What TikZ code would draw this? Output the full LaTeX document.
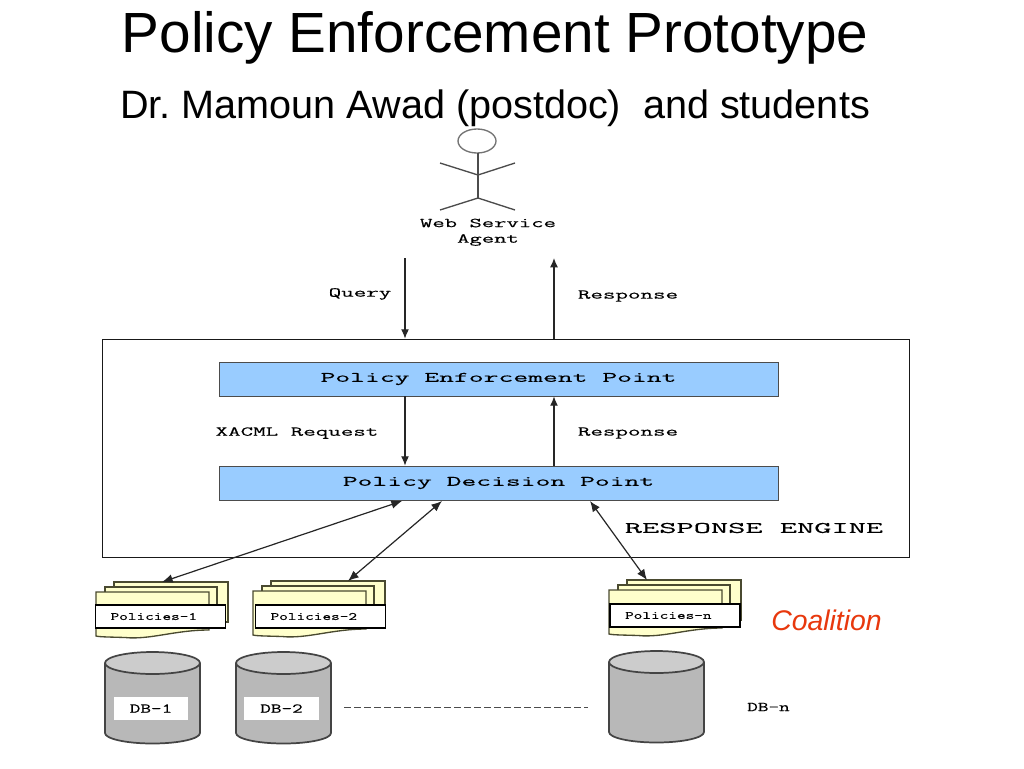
\documentclass[tikz,border=0pt]{standalone}
\usepackage{fontspec}
\usepackage{graphicx}
\setmainfont{Liberation Sans}
\frenchspacing
\newfontfamily\typefont[FakeBold=0.25]{Latin Modern Mono}
\definecolor{boxblue}{HTML}{99CCFF}
\definecolor{sheet}{HTML}{FFFFCC}
\definecolor{sheetline}{HTML}{4A4A30}
\definecolor{cylside}{HTML}{B8B8B8}
\definecolor{cyltop}{HTML}{CCCCCC}
\definecolor{cylline}{HTML}{444444}
\definecolor{coalred}{HTML}{E8380D}
\newcommand{\mono}[3]{\scalebox{#1}[#2]{\fontsize{12pt}{12pt}\selectfont\typefont #3}}
\newcommand{\sheets}[3]{%
  \begin{scope}[shift={(#1,#2)}]
    \draw[sheetedge] (114,582) rectangle (228,622);
    \draw[sheetedge] (105,587) rectangle (217,627);
    \draw[sheetedge] (96,592) -- (209,592) -- (209,630) .. controls (175,630) and (150,640) .. (125,637.5) .. controls (110,637) and (100,637) .. (96,636) -- cycle;
    \coordinate (#3) at (162,582);
  \end{scope}}
\newcommand{\cyl}[2]{%
  \begin{scope}[shift={(#1,#2)}]
    \path[cylbody] (105,663) -- (105,733) arc[start angle=180,end angle=0,x radius=47.5,y radius=10.5] -- (200,663) -- cycle;
    \draw[cyledge] (105,663) -- (105,733) arc[start angle=180,end angle=0,x radius=47.5,y radius=10.5] -- (200,663);
    \draw[cyledge,fill=cyltop] (152.5,663) ellipse[x radius=47.5,y radius=11];
  \end{scope}}
\usetikzlibrary{arrows.meta}
\tikzset{
  x=0.75pt,y=-0.75pt,
  sheetedge/.style={draw=sheetline,fill=sheet,line width=1pt},
  cylbody/.style={fill=cylside},
  cyledge/.style={draw=cylline,line width=1.3pt},
  bluebox/.style={draw=black!70,fill=boxblue,line width=0.6pt,minimum width=419.25pt,minimum height=25.5pt,inner sep=0pt},
  policybox/.style={draw=black,fill=white,line width=0.9pt,minimum width=97.5pt,minimum height=17.25pt,inner sep=0pt},
  dbbox/.style={fill=white,minimum width=56pt,minimum height=17.5pt,inner sep=0pt},
  plainlabel/.style={inner sep=0pt},
  arrow/.style={draw=black!85,line width=0.9pt,-{Latex[length=7pt,width=6pt]}},
  twoway/.style={draw=black!85,line width=0.9pt,{Latex[length=8pt,width=6.5pt]}-{Latex[length=8pt,width=6.5pt]}},
  actorline/.style={draw=black!70,line width=1pt}
}
\begin{document}
\begin{tikzpicture}
\useasboundingbox (0,0) rectangle (1024,768);
\fill[white] (0,0) rectangle (1024,768);
% titles
\node[plainlabel,anchor=base] (title) at (495,52) {\fontsize{42.5pt}{42.5pt}\selectfont Policy Enforcement Prototype};
\node[plainlabel,anchor=base] (subtitle) at (495,118) {\fontsize{29.7pt}{29.7pt}\selectfont Dr. Mamoun Awad (postdoc)\ \ and students};
% actor
\draw[actorline,draw=black!55,fill=white] (477,141) ellipse[x radius=19,y radius=12];
\draw[actorline] (478,153) -- (478,198);
\draw[actorline] (440,163) -- (478,175) -- (515,163);
\draw[actorline] (440,210) -- (478,198) -- (515,210);
\node[plainlabel] (agent1) at (488,223) {\mono{1.5}{0.85}{Web Service}};
\node[plainlabel] (agent2) at (488,240) {\mono{1.5}{0.85}{Agent}};
% engine
\node[draw=black!90,line width=0.6pt,minimum width=605.25pt,minimum height=163.5pt,inner sep=0pt] (engine) at (505.5,448) {};
\node[bluebox] (pep) at (498.5,379) {\mono{1.8}{0.9}{Policy Enforcement Point}};
\node[bluebox] (pdp) at (498.5,483) {\mono{1.8}{0.9}{Policy Decision Point}};
\node[plainlabel] (rengine) at (754,528) {\mono{2.09}{1}{RESPONSE ENGINE}};
% vertical connectors
\coordinate (qtop) at (405,258);
\coordinate (rtop) at (554,258);
\draw[arrow] (qtop) -- (qtop |- engine.north);
\draw[arrow] (rtop |- engine.north) -- (rtop);
\draw[arrow] (pep.south -| qtop) -- (pdp.north -| qtop);
\draw[arrow] (pdp.north -| rtop) -- (pep.south -| rtop);
\node[plainlabel] (query) at (360,294) {\mono{1.52}{0.85}{Query}};
\node[plainlabel] (resp1) at (628,296) {\mono{1.52}{0.85}{Response}};
\node[plainlabel] (xacml) at (297,433) {\mono{1.52}{0.85}{XACML Request}};
\node[plainlabel] (resp2) at (628,433) {\mono{1.52}{0.85}{Response}};
% policies
\sheets{0}{0}{topa}
\sheets{157}{-1}{topb}
\sheets{513}{-2}{topc}
\node[policybox] (p1) at (160.5,616.5) {\mono{1.05}{0.7}{Policies-1}\kern10pt\relax};
\node[policybox] (p2) at (320.5,616.5) {\mono{1.05}{0.7}{Policies-2}\kern10pt\relax};
\node[policybox] (pn) at (675,615.5) {\mono{1.05}{0.7}{Policies-n}\kern10pt\relax};
\coordinate (da) at (402,501);
\coordinate (db) at (442,501);
\coordinate (dc) at (590,501);
\draw[twoway] (da) -- (topa);
\draw[twoway] (db) -- (topb -| 348,0);
\draw[twoway] (dc) -- (topc -| 647,0);
\node[plainlabel,text=coalred] (coalition) at (826.5,620) {\fontsize{21.3pt}{21.3pt}\selectfont\itshape Coalition};
% databases
\cyl{0}{0}
\cyl{131}{0}
\cyl{504}{-1}
\node[dbbox] (db1) at (151,708.5) {\mono{1.29}{0.85}{DB-1}};
\node[dbbox] (db2) at (281.5,708.5) {\mono{1.29}{0.85}{DB-2}};
\node[plainlabel] (dbn) at (768.5,707) {\mono{1.29}{0.85}{DB-n}};
\coordinate (dashl) at (344,707);
\coordinate (dashr) at (588,707);
\draw[draw=black!70,line width=0.6pt,dash pattern=on 5pt off 2.5pt] (dashl) -- (dashr);
\end{tikzpicture}
\end{document}
